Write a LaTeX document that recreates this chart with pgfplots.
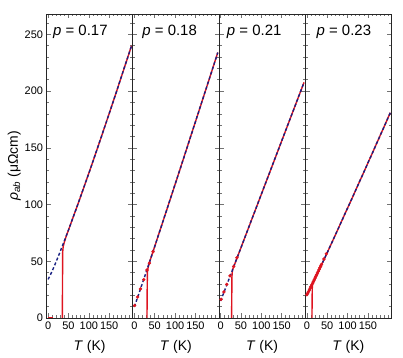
\documentclass[border=0pt]{standalone}
\usepackage{fontspec}
\setmainfont{Liberation Sans}
\usepackage{pgfplots}
\pgfplotsset{compat=1.18}
\definecolor{cred}{RGB}{222,20,32}
\definecolor{cblue}{RGB}{24,32,130}
\tikzset{plab/.style={font=\fontsize{15}{18}\selectfont, anchor=base west, inner sep=0pt}}
\pgfplotsset{
  panel/.style={
    scale only axis, width=86.25bp, height=304bp,
    xmin=-4, xmax=208, ymin=0, ymax=268,
    xtick={0,50,100,150}, minor xtick={10,20,30,40,60,70,80,90,110,120,130,140,160,170,180,190,200},
    ytick={0,50,100,150,200,250}, minor ytick={10,20,30,40,60,70,80,90,110,120,130,140,160,170,180,190,210,220,230,240,260},
    tick align=inside, major tick length=4.5bp, minor tick length=2.5bp,
    axis line style={black!85, line width=0.8bp},
    every tick/.style={black!55, line width=0.6bp},
    /pgf/number format/assume math mode=true,
    tick label style={font=\fontsize{11}{13}\selectfont},
    label style={font=\fontsize{14}{16}\selectfont},
    xlabel={\textit{T} (K)},
    xlabel style={yshift=-4bp},
    clip=true,
  },
  redline/.style={cred, line width=1.4bp, no marks},
  bluefit/.style={cblue, line width=1.4bp, dash pattern=on 3bp off 2.2bp, no marks},
  redpts/.style={cred, only marks, mark=*, mark size=1.5bp},
}
\begin{document}
\begin{tikzpicture}
\path[use as bounding box] (0,0) rectangle (403bp,358bp);
% ---------- p = 0.17
\begin{axis}[panel, at={(46.5bp,40bp)}, anchor=south west,
  ylabel={\textit{ρ}\textsubscript{\textit{ab}} (μΩcm)}, ylabel shift=-3bp]
\addplot[redline] coordinates {(0,0) (12,0)};
\addplot[redline] coordinates {(34,0) (35,0) (35.3,30) (35.8,58) (37,63) (40,67) (45,72.7)
 (50,77.5) (60,87.4) (70,97.2) (80,107.2) (90,117.4) (100,127.6) (110,137.9) (120,148.4)
 (130,158.9) (140,169.5) (150,180.2) (160,190.9) (170,201.7) (180,212.7) (190,223.6) (205,240)};
\addplot[bluefit] coordinates {(0,34) (10,41.4) (20,49.9) (30,58.9) (40,68.1) (50,77.5) (60,87.4)
 (70,97.2) (80,107.2) (90,117.4) (100,127.6) (110,137.9) (120,148.4) (130,158.9) (140,169.5)
 (150,180.2) (160,190.9) (170,201.7) (180,212.7) (190,223.6) (205,240)};
\node[plab] at (rel axis cs:0.075,0.928) {\textit{p} = 0.17};
\end{axis}
% ---------- p = 0.18
\begin{axis}[panel, at={(132.75bp,40bp)}, anchor=south west, yticklabels={}]
\addplot[redline] coordinates {(30,0) (31,0) (31.5,25) (32,40) (33,43) (36,48) (40,52.3)
 (50,63.1) (60,74.0) (70,84.9) (80,95.8) (90,106.8) (100,117.7) (110,128.7) (120,139.7)
 (130,150.8) (140,161.9) (150,172.9) (160,184.0) (170,195.1) (180,206.2) (190,217.3) (205,234)};
\addplot[bluefit] coordinates {(0,10) (10,20.3) (20,30.9) (30,41.5) (40,52.3) (50,63.1) (60,74.0)
 (70,84.9) (80,95.8) (90,106.8) (100,117.7) (110,128.7) (120,139.7) (130,150.8) (140,161.9)
 (150,172.9) (160,184.0) (170,195.1) (180,206.2) (190,217.3) (205,234)};
\addplot[redpts] coordinates {(0.5,11) (8,18.5) (15,25.6) (23,33.8) (31,42.3) (37,48.3) (46,58.5)};
\node[plab] at (rel axis cs:0.11,0.928) {\textit{p} = 0.18};
\end{axis}
% ---------- p = 0.21
\begin{axis}[panel, at={(219bp,40bp)}, anchor=south west, yticklabels={}]
\addplot[redline] coordinates {(26,0) (27,0) (27.4,20) (27.8,36) (28.5,40) (30,43.2) (40,52.6)
 (50,62) (60,71.4) (70,80.8) (80,90.2) (90,99.6) (100,109) (110,118.4) (120,127.8)
 (130,137.2) (140,146.6) (150,156) (160,165.4) (170,174.8) (180,184.2) (190,193.6) (205,207.7)};
\addplot[bluefit] coordinates {(0,15) (10,24.4) (20,33.8) (30,43.2) (40,52.6) (50,62) (60,71.4)
 (70,80.8) (80,90.2) (90,99.6) (100,109) (110,118.4) (120,127.8) (130,137.2) (140,146.6)
 (150,156) (160,165.4) (170,174.8) (180,184.2) (190,193.6) (205,207.7)};
\addplot[redpts] coordinates {(1,16.5) (8,23) (15,29.6) (23,37.2) (32,45.5) (40,53.2)};
\node[plab] at (rel axis cs:0.09,0.928) {\textit{p} = 0.21};
\end{axis}
% ---------- p = 0.23
\begin{axis}[panel, at={(305.25bp,40bp)}, anchor=south west, yticklabels={}]
\addplot[redline] coordinates {(12,0) (12.5,0) (13,20) (13.5,30) (15,31.6) (20,34.6) (30,42.2)
 (40,49.9) (50,57.6) (60,65.4) (70,73.2) (80,81.1) (90,89.0) (100,96.9) (110,104.7) (120,112.7)
 (130,120.7) (140,128.6) (150,136.7) (160,144.6) (170,152.7) (180,160.8) (190,168.8) (205,181)};
\addplot[bluefit] coordinates {(0,20) (10,27.2) (20,34.6) (30,42.2) (40,49.9) (50,57.6) (60,65.4)
 (70,73.2) (80,81.1) (90,89.0) (100,96.9) (110,104.7) (120,112.7) (130,120.7) (140,128.6)
 (150,136.7) (160,144.6) (170,152.7) (180,160.8) (190,168.8) (205,181)};
\addplot[redline] coordinates {(0,20) (4,22.8) (8,25.7) (12,28.7) (16,31.6) (20,34.6) (24,37.7) (28,40.7) (32,43.8) (36,46.8)};
\addplot[redpts] coordinates {(0,20.5) (2,21.9) (4,23.3) (6,24.7) (8,26.2) (10,27.7) (12,29.2)
 (14,30.6) (16,32.1) (18,33.6) (20,35.1) (22,36.7) (24,38.2) (26,39.7) (28,41.2) (30,42.7)
 (32,44.3) (34,45.8) (36,47.3) (42,52) (48,56.6)};
\node[plab] at (rel axis cs:0.13,0.928) {\textit{p} = 0.23};
\end{axis}
\end{tikzpicture}
\end{document}
